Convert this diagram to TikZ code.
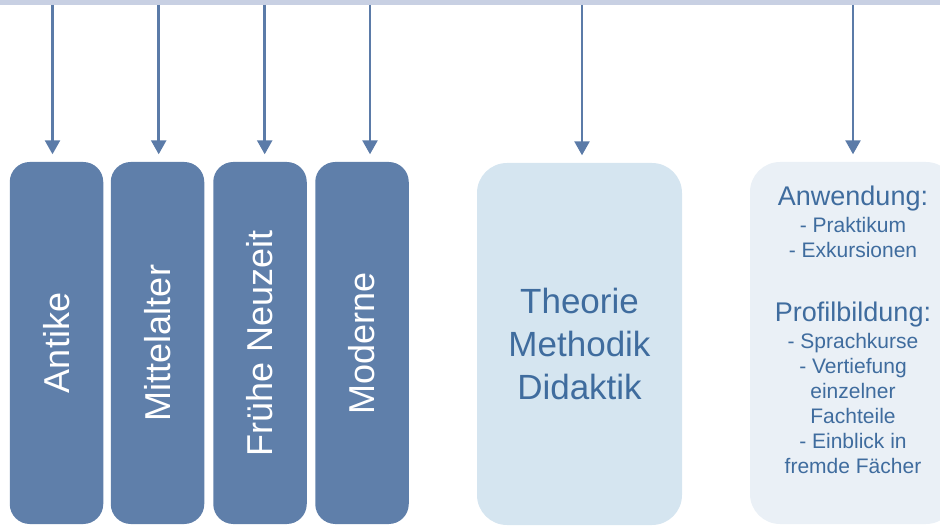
\documentclass[tikz,border=0pt]{standalone}
\usepackage{fontspec}
\setmainfont{Liberation Sans}
\usetikzlibrary{arrows.meta}

\definecolor{epochblue}{HTML}{5F7FAA}
\definecolor{arrowblue}{HTML}{5B7BA8}
\definecolor{theoryblue}{HTML}{D5E5F0}
\definecolor{profilblue}{HTML}{EAF0F6}
\definecolor{textblue}{HTML}{3F6C9E}
\definecolor{barblue}{HTML}{C8D0E3}

\newcommand{\headsize}{\fontsize{27}{25}\selectfont}
\newcommand{\itemsize}{\fontsize{21}{25}\selectfont}

\begin{document}
\begin{tikzpicture}[
    x=1pt, y=-1pt,
    epoch/.style={rectangle, fill=epochblue, text=white, rounded corners=20pt, minimum width=93.5pt, minimum height=362pt, inner sep=0pt, font=\fontsize{36}{36}\selectfont},
    panel/.style={rectangle, rounded corners=30pt, minimum width=205pt, minimum height=362pt, inner sep=0pt, text=textblue, align=center},
    arrow/.style={-{Triangle[width=15pt, length=14pt]}, line width=2.5pt, draw=arrowblue, shorten >=7.5pt}
]
\useasboundingbox (0,0) rectangle (940,526);

% Top bar
\node[fill=barblue, minimum width=940pt, minimum height=5pt, inner sep=0pt, anchor=north west] (bar) at (0,0) {};

% Nodes
\node[epoch] (antike) at (56.5,343) {\rotatebox{90}{Antike}};
\node[epoch] (mittelalter) at (157.5,343) {\rotatebox{90}{Mittelalter}};
\node[epoch] (neuzeit) at (260,343) {\rotatebox{90}{Frühe Neuzeit}};
\node[epoch] (moderne) at (362,343) {\rotatebox{90}{Moderne}};

\node[panel, fill=theoryblue, font=\fontsize{35}{43}\selectfont] (theorie) at (579.5,344) {Theorie\\Methodik\\Didaktik};

\node[panel, fill=profilblue, minimum width=206pt] (profil) at (853,343) {};
\node[text=textblue, align=center, inner sep=0pt, font=\itemsize] (profiltext) at (853,330) {%
    \headsize Anwendung:\\[2pt]
    \itemsize - Praktikum\\
    \itemsize - Exkursionen\\[39pt]
    \headsize Profilbildung:\\[2pt]
    \itemsize - Sprachkurse\\
    \itemsize - Vertiefung\\
    \itemsize einzelner\\
    \itemsize Fachteile\\
    \itemsize - Einblick in\\
    \itemsize fremde Fächer};

% Arrows
\coordinate (s1) at (52.5,5);
\coordinate (s2) at (158.7,5);
\coordinate (s3) at (264.7,5);
\coordinate (s4) at (370,5);
\coordinate (s5) at (582,5);
\coordinate (s6) at (853,5);
\draw[arrow] (s1) -- (s1 |- antike.north);
\draw[arrow] (s2) -- (s2 |- mittelalter.north);
\draw[arrow] (s3) -- (s3 |- neuzeit.north);
\draw[arrow] (s4) -- (s4 |- moderne.north);
\draw[arrow] (s5) -- (s5 |- theorie.north);
\draw[arrow] (s6) -- (s6 |- profil.north);

\end{tikzpicture}
\end{document}
